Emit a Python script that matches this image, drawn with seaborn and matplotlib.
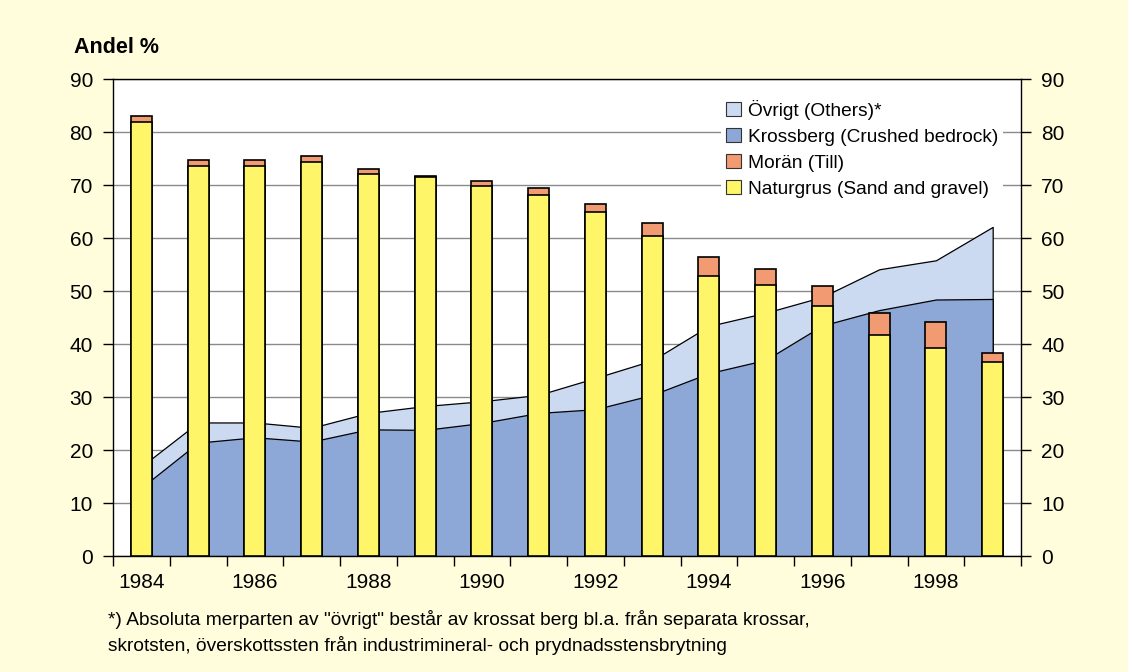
import numpy as np
import pandas as pd
import matplotlib.pyplot as plt
from matplotlib.patches import Patch
import seaborn as sns

# values (percent)
years = list(range(1984, 2000))
naturgrus = [81.8, 73.5, 73.6, 74.4, 72.1, 71.5, 69.8, 68.2, 65.0, 60.4, 52.8, 51.1, 47.2, 41.7, 39.2, 36.7]
moran = [1.3, 1.3, 1.2, 1.1, 0.9, 0.2, 1.0, 1.3, 1.4, 2.4, 3.7, 3.0, 3.7, 4.1, 4.9, 1.6]
krossberg = [12.9, 21.4, 22.4, 21.6, 23.9, 23.8, 25.1, 27.0, 27.7, 30.4, 34.5, 37.0, 43.5, 46.4, 48.4, 48.5]
ovrigt = [4.0, 3.8, 2.8, 2.6, 3.1, 4.5, 4.1, 3.4, 5.9, 6.5, 8.9, 8.9, 5.4, 7.7, 7.4, 13.6]

labels = ['Övrigt (Others)*', 'Krossberg (Crushed bedrock)', 'Morän (Till)', 'Naturgrus (Sand and gravel)']
col_ovr = '#CBDAF0'
col_kross = '#8DA8D6'
col_moran = '#F29A72'
col_grus = '#FFF568'
bg = '#FFFDDC'

df = pd.DataFrame({'year': [str(y) for y in years], 'naturgrus': naturgrus, 'moran': moran,
                   'krossberg': krossberg, 'ovrigt': ovrigt})
df['bar_total'] = df['naturgrus'] + df['moran']
df['area_total'] = df['krossberg'] + df['ovrigt']

sns.set_style('ticks')
plt.rcParams['font.family'] = ['Liberation Sans', 'DejaVu Sans']
plt.rcParams['text.color'] = 'black'
plt.rcParams['xtick.color'] = 'black'
plt.rcParams['ytick.color'] = 'black'

fig = plt.figure(figsize=(11.28, 6.72), dpi=100, facecolor=bg)
ax = fig.add_axes([0.1002, 0.1726, 0.805, 0.7098])
ax.set_facecolor('white')

x = np.arange(len(years))
ax.fill_between(x, 0, df['area_total'], facecolor=col_ovr, edgecolor='black', lw=0.9, zorder=1)
ax.fill_between(x, 0, df['krossberg'], facecolor=col_kross, edgecolor='black', lw=0.9, zorder=1.5)

sns.barplot(data=df, x='year', y='bar_total', color=col_moran, saturation=1, width=0.37,
            edgecolor='black', linewidth=1.2, ax=ax, zorder=3)
sns.barplot(data=df, x='year', y='naturgrus', color=col_grus, saturation=1, width=0.37,
            edgecolor='black', linewidth=1.2, ax=ax, zorder=4)

ax.set_xlim(-0.5, len(years) - 0.5)
ax.set_ylim(0, 90)
ax.set_yticks(range(0, 91, 10))
ax.set_xticks(x[::2], [str(y) for y in years[::2]])
ax.set_xticks(np.arange(-0.5, len(years), 1), minor=True)
ax.tick_params(axis='x', which='major', length=0, pad=12.5, labelsize=15)
ax.tick_params(axis='x', which='minor', length=7, width=1, direction='out')
ax.tick_params(axis='y', length=7, width=1, direction='out', labelsize=15, pad=7.5,
               left=True, right=True, labelleft=True, labelright=True)
ax.set_xlabel('')
ax.set_ylabel('')
ax.set_axisbelow(True)
ax.yaxis.grid(True, color='#8a8a8a', lw=1)
for s in ax.spines.values():
    s.set_color('black')
    s.set_linewidth(1)

handles = [Patch(facecolor=c, edgecolor='#333333', lw=0.8) for c in [col_ovr, col_kross, col_moran, col_grus]]
leg = ax.legend(handles, labels, loc='upper right', bbox_to_anchor=(0.991, 0.987), fontsize=13.8,
                handlelength=0.8, handleheight=0.8, handletextpad=0.35, labelspacing=0.42,
                frameon=True, fancybox=False, framealpha=1, borderpad=0.25)
leg.get_frame().set_facecolor('white')
leg.get_frame().set_edgecolor('none')

fig.text(0.066, 0.929, 'Andel %', fontsize=15.5, fontweight='bold', va='center', ha='left')
fig.text(0.096, 0.078, '*) Absoluta merparten av "övrigt" består av krossat berg bl.a. från separata krossar,',
         fontsize=13.8, va='center', ha='left')
fig.text(0.096, 0.039, 'skrotsten, överskottssten från industrimineral- och prydnadsstensbrytning',
         fontsize=13.8, va='center', ha='left')

fig.savefig('out.png', dpi=100, facecolor=bg)
